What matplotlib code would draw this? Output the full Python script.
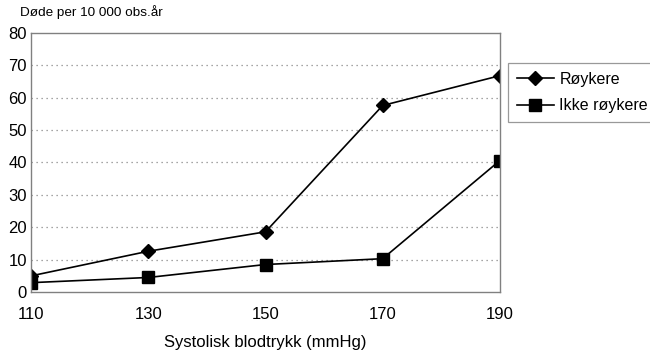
import matplotlib.pyplot as plt

plt.rcParams["font.family"] = ["Liberation Sans", "DejaVu Sans"]

blodtrykk = [110, 130, 150, 170, 190]
roykere = [5.0, 12.6, 18.6, 57.6, 66.8]
ikke_roykere = [2.9, 4.5, 8.5, 10.3, 40.6]

fig = plt.figure(figsize=(6.5, 3.54), dpi=100)
ax = fig.add_axes([0.048, 0.175, 0.721, 0.732])

ax.plot(blodtrykk, roykere, color="black", lw=1.2, marker="D", ms=7, label="Røykere")
ax.plot(blodtrykk, ikke_roykere, color="black", lw=1.2, marker="s", ms=8, label="Ikke røykere")

ax.set_xlim(110, 190)
ax.set_ylim(0, 80)
ax.set_xticks(blodtrykk)
ax.set_yticks(range(0, 81, 10))
ax.tick_params(length=0, labelsize=12)
ax.tick_params(axis="x", pad=11)
ax.tick_params(axis="y", pad=3)
for v in range(10, 80, 10):
    ax.axhline(v, color="#888888", lw=0.9, ls=(0, (1, 3)), zorder=0)
for s in ax.spines.values():
    s.set_color("#808080")
    s.set_linewidth(1.0)

ax.set_xlabel("Systolisk blodtrykk (mmHg)", fontsize=12, labelpad=9)
fig.text(0.031, 0.965, "Døde per 10 000 obs.år", fontsize=9.7, va="center")

leg = ax.legend(loc="upper left", bbox_to_anchor=(1.018, 0.885), frameon=True, fancybox=False,
                edgecolor="#808080", fontsize=11.5, handlelength=2.3, borderpad=0.55,
                borderaxespad=0, labelspacing=0.75, handletextpad=0.35)
leg.get_frame().set_linewidth(0.9)

fig.savefig("out.png", dpi=100)
